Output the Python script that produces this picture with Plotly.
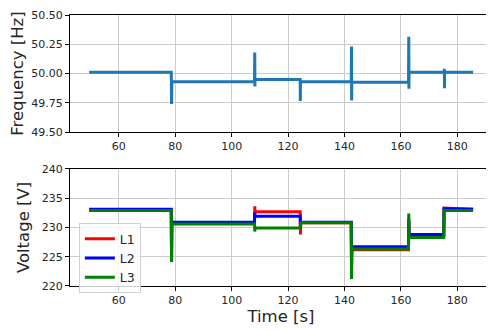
import plotly.graph_objects as go
from plotly.subplots import make_subplots

# ---- data ----
freq_time = [49.5, 78.6, 78.7, 78.75, 78.8, 108.1, 108.2, 108.25, 108.3, 124.3, 124.35, 124.4,
             142.4, 142.5, 142.55, 142.6, 162.7, 162.8, 162.85, 162.9, 175.3, 175.4, 175.45, 175.5, 185.6]
freq_vals = [50.01, 50.01, 49.74, 49.93, 49.93, 49.93, 50.18, 49.89, 49.95, 49.95, 49.765, 49.93,
             49.93, 50.23, 49.77, 49.925, 49.925, 50.315, 49.87, 50.01, 50.01, 50.04, 49.875, 50.01, 50.01]

volt_time = [49.5, 78.6, 78.7, 78.8, 108.1, 108.2, 108.3, 124.3, 124.4, 124.5,
             142.4, 142.5, 142.6, 162.7, 162.8, 162.9, 175.2, 175.3, 185.6]
l1_vals = [233.0, 233.0, 225.0, 230.7, 230.7, 233.6, 232.7, 232.7, 228.8, 230.8,
           230.8, 223.5, 226.2, 226.2, 231.0, 228.6, 228.6, 233.3, 233.1]
l2_vals = [233.1, 233.1, 225.0, 230.9, 230.9, 232.6, 231.9, 231.9, 230.0, 230.9,
           230.9, 223.0, 226.7, 226.7, 231.5, 228.8, 228.8, 233.2, 233.1]
l3_vals = [232.9, 232.9, 224.1, 230.6, 230.6, 229.3, 229.9, 229.9, 230.2, 230.8,
           230.8, 221.2, 226.3, 226.3, 232.4, 228.3, 228.3, 232.9, 232.9]

x_ticks = [60, 80, 100, 120, 140, 160, 180]
freq_ticks = [49.5, 49.75, 50.0, 50.25, 50.5]
volt_ticks = [220, 225, 230, 235, 240]

fig = make_subplots(rows=2, cols=1)

fig.add_trace(go.Scatter(x=freq_time, y=freq_vals, mode="lines",
                         line=dict(color="#1f77b4", width=3), showlegend=False), row=1, col=1)
fig.add_trace(go.Scatter(x=volt_time, y=l1_vals, mode="lines", name="L1",
                         line=dict(color="#ff0000", width=3)), row=2, col=1)
fig.add_trace(go.Scatter(x=volt_time, y=l2_vals, mode="lines", name="L2",
                         line=dict(color="#0000ff", width=3)), row=2, col=1)
fig.add_trace(go.Scatter(x=volt_time, y=l3_vals, mode="lines", name="L3",
                         line=dict(color="#008000", width=3)), row=2, col=1)

axis_common = dict(showline=True, linecolor="black", linewidth=1, mirror=True,
                   ticks="outside", ticklen=4, tickcolor="black", automargin=False,
                   showgrid=True, gridcolor="#cccccc", gridwidth=1, zeroline=False,
                   tickfont=dict(family="DejaVu Sans", size=11, color="#262626"))

fig.update_xaxes(range=[42.7, 192.3], tickvals=x_ticks, **axis_common)
fig.update_xaxes(domain=[0, 1], row=1, col=1)
fig.update_xaxes(domain=[0, 1], row=2, col=1,
                 title=dict(text="Time [s]", font=dict(family="DejaVu Sans", size=16.5, color="#262626"),
                            standoff=4))
fig.update_yaxes(**axis_common)
fig.update_yaxes(range=[49.5, 50.5], tickvals=freq_ticks, tickformat=".2f", domain=[0.568, 1.0],
                 title=dict(text="Frequency [Hz]", font=dict(family="DejaVu Sans", size=16.5, color="#262626"),
                            standoff=8), row=1, col=1)
fig.update_yaxes(range=[220, 240], tickvals=volt_ticks, domain=[0.0, 0.432],
                 title=dict(text="Voltage [V]", font=dict(family="DejaVu Sans", size=16.5, color="#262626"),
                            standoff=8), row=2, col=1)

# the page body adds an 8px offset, so the figure is 8px smaller and margins compensate
fig.update_layout(
    width=486, height=322,
    margin=dict(l=62, r=2, t=7, b=44),
    paper_bgcolor="white", plot_bgcolor="white",
    legend=dict(x=0.021, y=0.232, xanchor="left", yanchor="top",
                bgcolor="rgba(255,255,255,0.8)", bordercolor="#d0d0d0", borderwidth=1,
                font=dict(family="DejaVu Sans", size=12.5, color="#262626"),
                tracegroupgap=0, itemwidth=30),
)

fig.write_html("out.html")
